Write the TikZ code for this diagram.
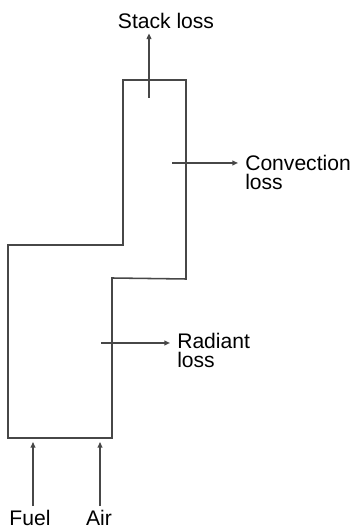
\documentclass[tikz,border=0pt]{standalone}
\usepackage{fontspec}
\setmainfont{Liberation Sans}
\usetikzlibrary{arrows.meta}
\begin{document}
\begin{tikzpicture}[x=0.025cm,y=0.025cm,
  wall/.style={line width=1.1pt,black!72,line join=miter},
  flow/.style={line width=1pt,black!72,-{Triangle[length=4pt,width=3.4pt]}},
  lbl/.style={inner sep=0pt,font={\fontsize{15}{13.2}\selectfont},align=left}]
  \useasboundingbox (0,0) rectangle (353,530);
  % furnace outline
  \draw[wall] (123,450) -- (186,450) -- (186,251) -- (112,252) -- (112,92)
    -- (8,92) -- (8,285) -- (123,285) -- cycle;
  % labels
  \node[lbl,anchor=base] (stack) at (166,501.7) {Stack loss};
  \node[lbl,anchor=north west] (conv) at (245,375) {Convection\\loss};
  \node[lbl,anchor=north west] (rad) at (177,197) {Radiant\\loss};
  \node[lbl,anchor=base] (fuel) at (30,4) {Fuel};
  \node[lbl,anchor=base] (air) at (99,4) {Air};
  % loss and feed points
  \coordinate (stackfrom) at (149,432);
  \coordinate (convfrom) at (172,367);
  \coordinate (radfrom) at (101,187);
  \coordinate (fuelto) at (33,88);
  \coordinate (airto) at (100,88);
  % arrows
  \draw[flow,shorten >=3.3pt] (stackfrom) -- (stackfrom |- stack.south);
  \draw[flow,shorten >=5pt] (convfrom) -- (convfrom -| conv.west);
  \draw[flow,shorten >=5pt] (radfrom) -- (radfrom -| rad.west);
  \draw[flow,shorten <=3pt] (fuelto |- fuel.north) -- (fuelto);
  \draw[flow,shorten <=3pt] (airto |- air.north) -- (airto);
\end{tikzpicture}
\end{document}
